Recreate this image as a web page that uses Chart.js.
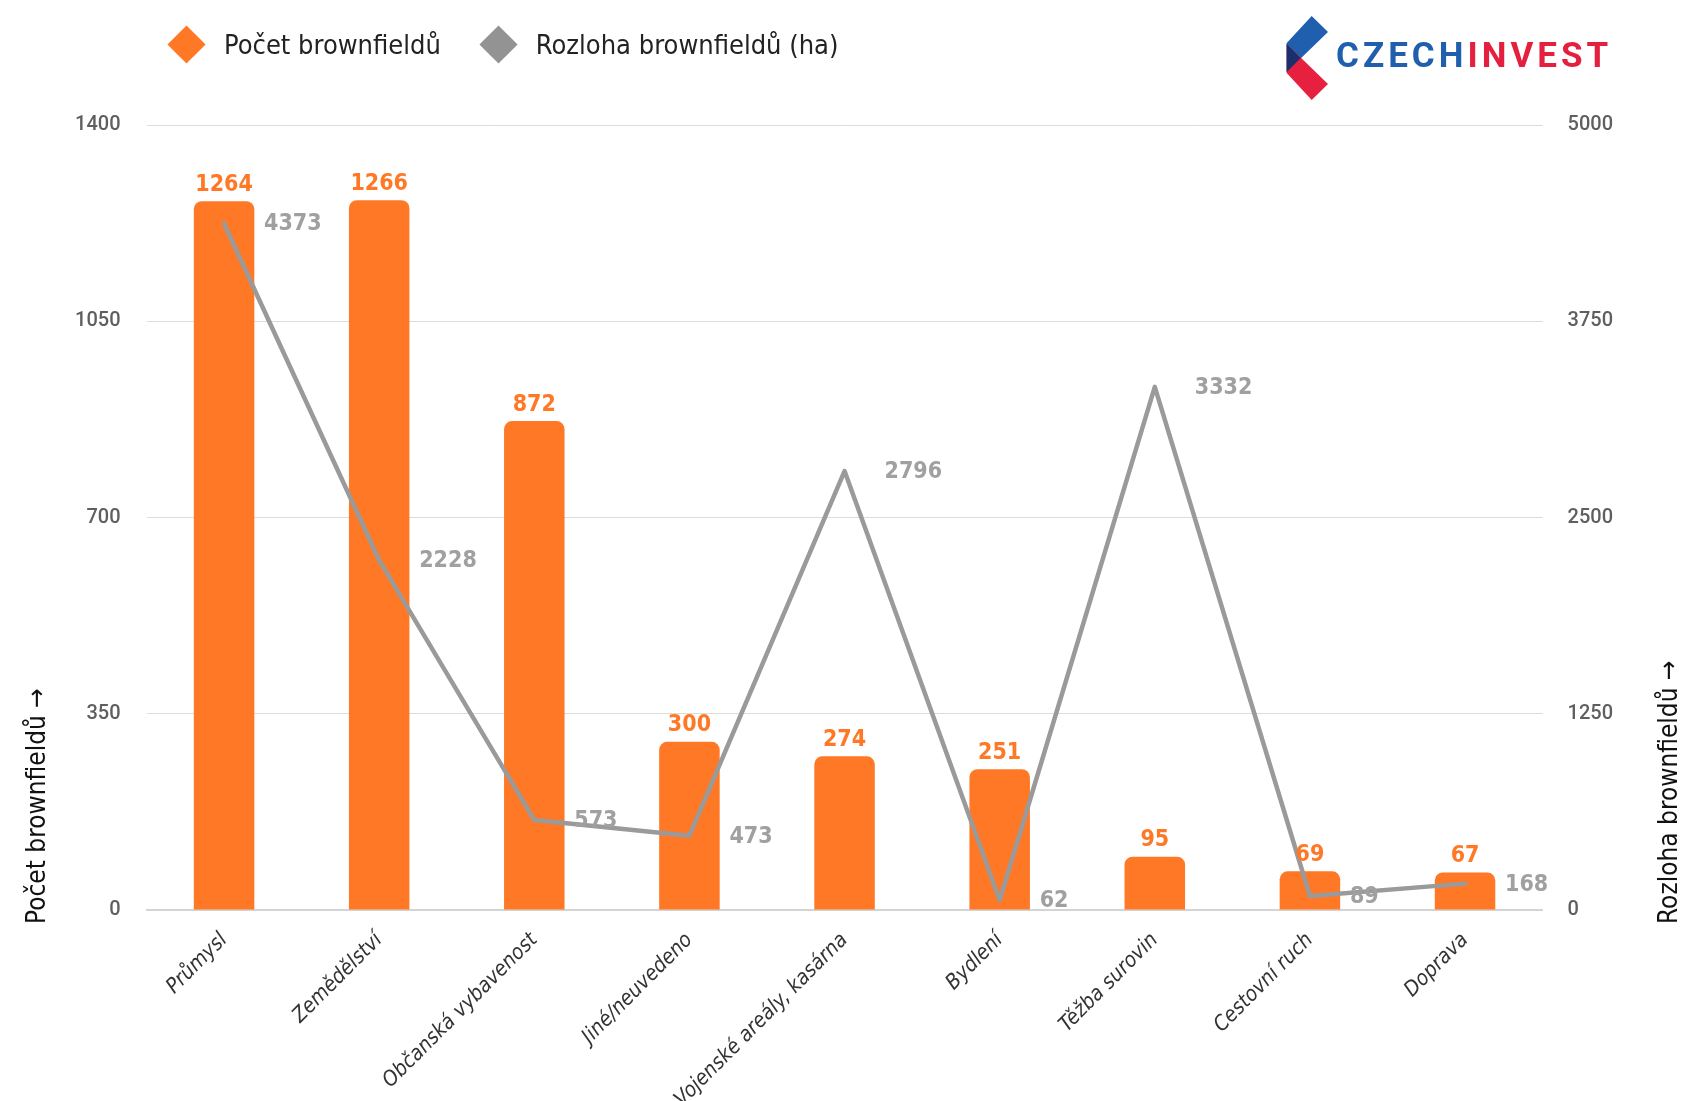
<!DOCTYPE html>
<html>
<head>
<meta charset="utf-8">
<script src="https://cdn.jsdelivr.net/npm/chart.js@4.4.0/dist/chart.umd.min.js"></script>
<style>
  body { margin: 0; background: #fff; }
  #wrap { position: relative; width: 1689px; height: 1101px; }
  #legend { position: absolute; left: 167px; top: 29px; display: flex; align-items: center;
            font-family: 'Liberation Sans Narrow', 'DejaVu Sans Condensed', Roboto, sans-serif; font-size: 27px; color: #222; }
  .item { display: flex; align-items: center; margin-right: 38px; }
  .dia { width: 27px; height: 27px; transform: rotate(45deg); margin: 0 24px 0 6px; }
  #logo { position: absolute; left: 1280px; top: 10px; }
  #logotext { position: absolute; left: 1336px; top: 36px; font-family: Roboto, 'DejaVu Sans', sans-serif;
              font-weight: 700; font-size: 35px; letter-spacing: 4px; line-height: 40px; }
</style>
</head>
<body>
<div id="wrap">
  <canvas id="chart" width="1689" height="1101"></canvas>
  <div id="legend">
    <div class="item"><div class="dia" style="background:#ff7826"></div>Počet brownfieldů</div>
    <div class="item"><div class="dia" style="background:#939393"></div>Rozloha brownfieldů (ha)</div>
  </div>
  <svg id="logo" width="60" height="100" viewBox="1280 10 60 100">
    <polygon points="1286.7,43 1311.7,16 1328,32 1286.7,72" fill="#1f5fae"/>
    <polygon points="1286.7,44 1328,84 1311.7,100 1286.7,73" fill="#e8203f"/>
    <polygon points="1286.7,44 1300.7,58 1286.7,72" fill="#1a2f6b"/>
  </svg>
  <div id="logotext"><span style="color:#1f5fae">CZECH</span><span style="color:#e5203f">INVEST</span></div>
</div>
<script>
const categories = ['Průmysl', 'Zemědělství', 'Občanská vybavenost', 'Jiné/neuvedeno',
  'Vojenské areály, kasárna', 'Bydlení', 'Těžba surovin', 'Cestovní ruch', 'Doprava'];
const countValues = [1264, 1266, 872, 300, 274, 251, 95, 69, 67];
const areaValues = [4373, 2228, 573, 473, 2796, 62, 3332, 89, 168];
const countTicks = [0, 350, 700, 1050, 1400];
const areaTicks = [0, 1250, 2500, 3750, 5000];

const ORANGE = '#ff7826';
const GREY = '#9a9a9a';
const NARROW = "'Liberation Sans Narrow', 'DejaVu Sans Condensed', Roboto, sans-serif";

const valueLabels = {
  id: 'valueLabels',
  afterDatasetsDraw(chart) {
    const ctx = chart.ctx;
    ctx.save();
    ctx.font = 'bold 23px ' + NARROW;
    chart.getDatasetMeta(0).data.forEach((bar, i) => {
      ctx.fillStyle = ORANGE;
      ctx.textAlign = 'center';
      ctx.textBaseline = 'bottom';
      ctx.fillText(countValues[i], bar.x, bar.y - 5);
    });
    chart.getDatasetMeta(1).data.forEach((pt, i) => {
      ctx.fillStyle = '#a0a0a0';
      ctx.textAlign = 'left';
      ctx.textBaseline = 'middle';
      ctx.fillText(areaValues[i], pt.x + 40, pt.y + 1);
    });
    ctx.restore();
  }
};

const axisTitles = {
  id: 'axisTitles',
  afterDraw(chart) {
    const ctx = chart.ctx;
    const b = chart.chartArea.bottom + 14;
    ctx.save();
    ctx.font = '26px ' + NARROW;
    ctx.fillStyle = '#111';
    ctx.textAlign = 'left';
    ctx.textBaseline = 'middle';
    [[38, 'Počet brownfieldů →'], [1670, 'Rozloha brownfieldů →']].forEach(([x, t]) => {
      ctx.save();
      ctx.translate(x, b);
      ctx.rotate(-Math.PI / 2);
      ctx.fillText(t, 0, 0);
      ctx.restore();
    });
    ctx.restore();
  }
};

const tickFont = { family: 'Roboto', size: 20, weight: '500' };

new Chart(document.getElementById('chart'), {
  data: {
    labels: categories,
    datasets: [{
      type: 'bar',
      label: 'Počet brownfieldů',
      data: countValues,
      backgroundColor: ORANGE,
      borderRadius: 8,
      borderSkipped: 'start',
      barPercentage: 0.5,
      categoryPercentage: 0.78,
      yAxisID: 'y',
      order: 2
    }, {
      type: 'line',
      label: 'Rozloha brownfieldů (ha)',
      data: areaValues,
      borderColor: GREY,
      borderWidth: 4.5,
      pointRadius: 0,
      borderCapStyle: 'round',
      borderJoinStyle: 'round',
      tension: 0,
      yAxisID: 'y1',
      order: 1
    }]
  },
  options: {
    responsive: false,
    animation: false,
    devicePixelRatio: 1,
    layout: { padding: { top: 125, left: 0, right: 0, bottom: 0 } },
    plugins: { legend: { display: false }, tooltip: { enabled: false } },
    scales: {
      x: {
        grid: { display: false, drawTicks: false },
        border: { display: true, color: '#d4d4d4', width: 2 },
        ticks: {
          minRotation: 45, maxRotation: 45, autoSkip: false, padding: 18,
          color: '#333', font: { family: NARROW, size: 21, style: 'italic' }
        },
        afterFit: s => { s.height = 191; }
      },
      y: {
        position: 'left', min: 0, max: 1400,
        afterBuildTicks: s => { s.ticks = countTicks.map(v => ({ value: v })); },
        grid: { color: '#dcdcdc', lineWidth: 1, drawTicks: false },
        border: { display: false },
        ticks: { padding: 26, color: '#5f5f5f', font: tickFont, callback: v => String(v) },
        afterFit: s => { s.width = 146.5; }
      },
      y1: {
        position: 'right', min: 0, max: 5000,
        afterBuildTicks: s => { s.ticks = areaTicks.map(v => ({ value: v })); },
        grid: { display: false, drawTicks: false },
        border: { display: false },
        ticks: { padding: 25, color: '#5f5f5f', font: tickFont, callback: v => String(v) },
        afterFit: s => { s.width = 146.4; }
      }
    }
  },
  plugins: [valueLabels, axisTitles]
});
</script>
</body>
</html>
